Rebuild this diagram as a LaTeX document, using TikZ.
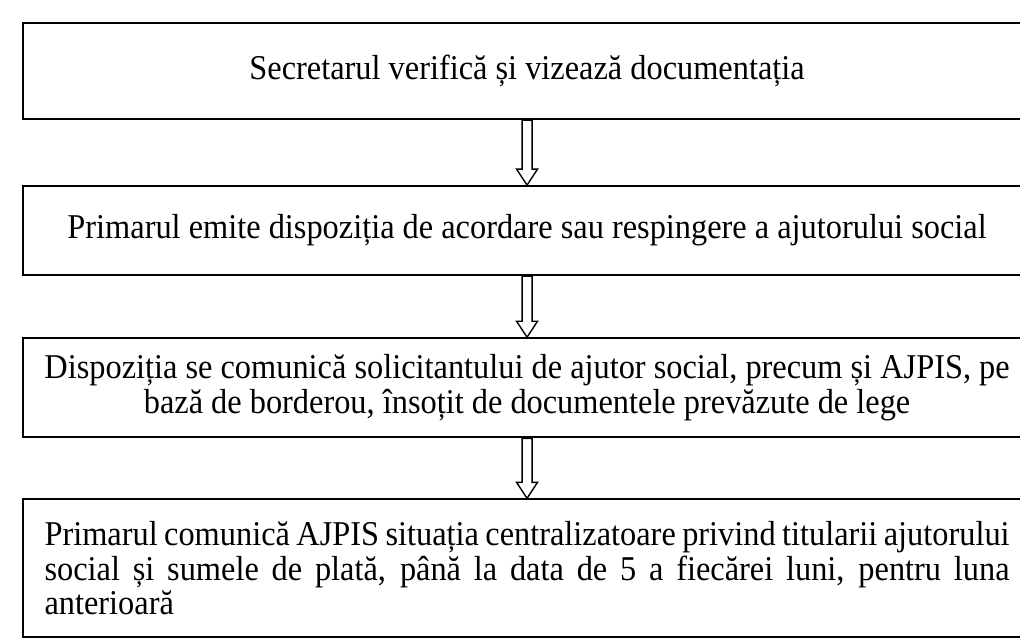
\documentclass[tikz,border=0pt]{standalone}
\usepackage{fontspec}
\setmainfont[FakeStretch=0.93]{Liberation Serif}
\usetikzlibrary{positioning,calc}
\tikzset{
  stepbox/.style={draw, line width=1.2pt, minimum width=20.16cm, inner sep=0pt,
    font=\fontsize{19.8}{19.6}\selectfont},
  blockarrow/.style={line width=0.8pt, fill=white, to path={
    ($(\tikztostart)+(-0.1,0)$) -- ($(\tikztotarget)+(-0.1,0.32)$)
    -- ($(\tikztotarget)+(-0.21,0.32)$) -- (\tikztotarget)
    -- ($(\tikztotarget)+(0.21,0.32)$) -- ($(\tikztotarget)+(0.1,0.32)$)
    -- ($(\tikztostart)+(0.1,0)$) -- cycle}}
}

\begin{document}
\begin{tikzpicture}
\useasboundingbox (0,0) rectangle (20.4,-12.76);
\node [stepbox, minimum height=1.92cm, anchor=north west] (verif) at (0.44,-0.44)
  {Secretarul verifică și vizează documentația};
\node [stepbox, minimum height=1.78cm, below=1.3cm of verif] (disp)
  {Primarul emite dispoziția de acordare sau respingere a ajutorului social};
\node [stepbox, minimum height=1.98cm, below=1.22cm of disp, align=center] (comun)
  {Dispoziția se comunică solicitantului de ajutor social, precum și AJPIS, pe\\
   bază de borderou, însoțit de documentele prevăzute de lege};
\node [stepbox, minimum height=2.76cm, below=1.2cm of comun, text width=19.3cm, align=justify,
  execute at begin node={\hyphenpenalty=10000}] (situatie)
  {Primarul comunică AJPIS situația centralizatoare privind titularii ajutorului\linebreak
   social și sumele de plată, până la data de 5 a fiecărei luni, pentru luna\linebreak
   anterioară};
\draw [blockarrow] (verif.south) to (disp.north);
\draw [blockarrow] (disp.south) to (comun.north);
\draw [blockarrow] (comun.south) to (situatie.north);
\end{tikzpicture}
\end{document}
